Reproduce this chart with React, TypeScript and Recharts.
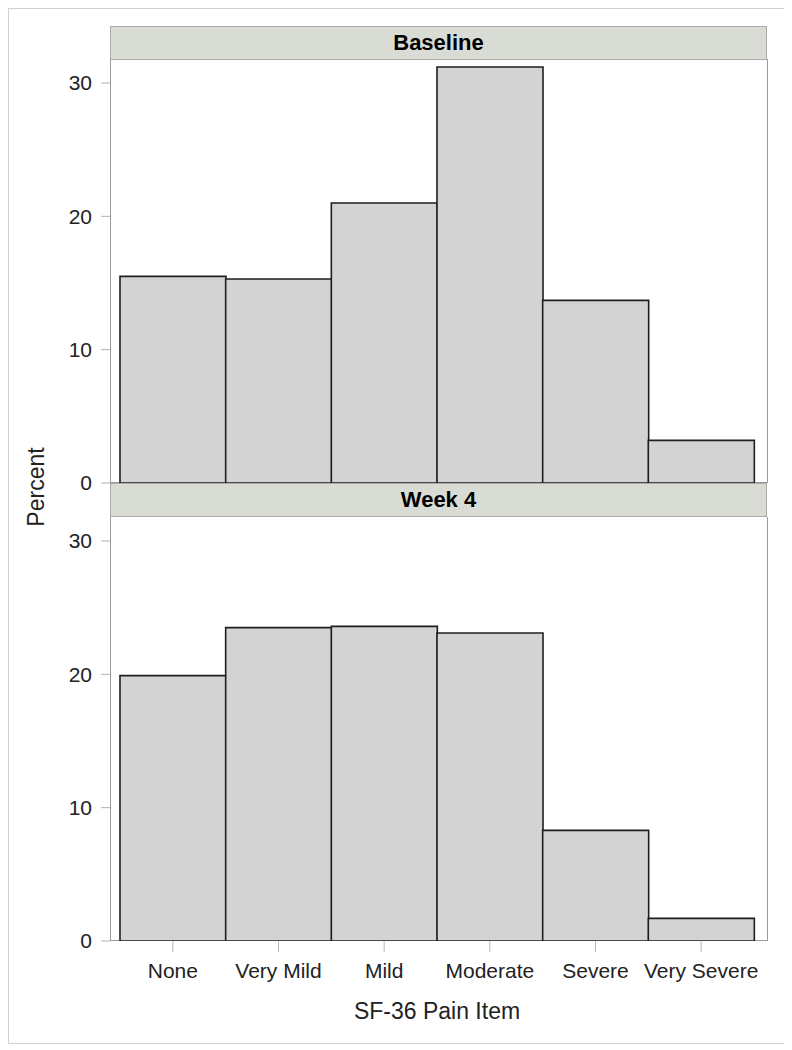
import { CSSProperties } from 'react'
import { Bar, BarChart, XAxis, YAxis } from 'recharts'

const categories = ['None', 'Very Mild', 'Mild', 'Moderate', 'Severe', 'Very Severe']
const baselinePct = [15.5, 15.3, 21.0, 31.2, 13.7, 3.2]
const week4Pct = [19.9, 23.5, 23.6, 23.1, 8.3, 1.7]
const yTicks = [0, 10, 20, 30]
const panelTitles = ['Baseline', 'Week 4']

const FONT = '"Liberation Sans", Arial, sans-serif'
const yDomain: [number, number] = [0, 31.8]

const baselineData = categories.map((c, i) => ({ cat: c, pct: baselinePct[i] }))
const week4Data = categories.map((c, i) => ({ cat: c, pct: week4Pct[i] }))

const sWrap: CSSProperties = { position: 'relative', width: 778, height: 1036, fontFamily: FONT }
const sOuter: CSSProperties = {
  position: 'absolute', left: 0, top: 0, width: 776, height: 1034,
  border: '1px solid #d0d0d0',
}
const sFrame = (top: number): CSSProperties => ({
  position: 'absolute', left: 102, top, width: 656, height: 423,
  border: '1px solid #9a9a9a', borderTop: 'none',
})
const sHeader = (top: number): CSSProperties => ({
  position: 'absolute', left: 102, top, width: 655, height: 32,
  background: '#d9dbd5', border: '1px solid #ababab',
  textAlign: 'center', lineHeight: '32px', fontWeight: 'bold', fontSize: 22, color: '#000',
})
const sChart = (top: number): CSSProperties => ({ position: 'absolute', left: 0, top })

const tickStyle = { fontSize: 21, fill: '#222', fontFamily: FONT }

export default function App() {
  return (
    <div style={sWrap}>
      <div style={sOuter}/>
      <div style={sFrame(51)}/>
      <div style={sFrame(509)}/>
      <div style={sHeader(18)}>{panelTitles[0]}</div>
      <div style={sHeader(475)}>{panelTitles[1]}</div>
      <div style={sChart(0)}>
        <BarChart width={770} height={500} data={baselineData} barCategoryGap={0}
                  margin={{ top: 51, right: 11, bottom: 25, left: 42 }}>
          <XAxis dataKey="cat" hide padding={{ left: 10, right: 13 }}/>
          <YAxis width={60} domain={yDomain} ticks={yTicks} allowDataOverflow axisLine={false} interval={0}
                 tickSize={9} tickMargin={9} tick={tickStyle} tickLine={{ stroke: '#b0b0b0' }}/>
          <Bar dataKey="pct" fill="#d3d3d3" stroke="#1e1e1e" strokeWidth={1.6} isAnimationActive={false}/>
        </BarChart>
      </div>
      <div style={sChart(480)}>
        <BarChart width={770} height={520} data={week4Data} barCategoryGap={0}
                  margin={{ top: 29, right: 11, bottom: 11, left: 42 }}>
          <XAxis dataKey="cat" padding={{ left: 10, right: 13 }} axisLine={false} height={56}
                 tickSize={11} tickMargin={11} tick={tickStyle} tickLine={{ stroke: '#b8b8b8' }}
                 interval={0}/>
          <YAxis width={60} domain={yDomain} ticks={yTicks} allowDataOverflow axisLine={false} interval={0}
                 tickSize={9} tickMargin={9} tick={tickStyle} tickLine={{ stroke: '#b0b0b0' }}/>
          <Bar dataKey="pct" fill="#d3d3d3" stroke="#1e1e1e" strokeWidth={1.6} isAnimationActive={false}/>
        </BarChart>
      </div>
      <div style={{
        position: 'absolute', left: 28, top: 479, width: 0, height: 0,
      }}>
        <div style={{
          position: 'absolute', left: -50, top: -14, width: 100, textAlign: 'center',
          transform: 'rotate(-90deg)', fontSize: 23, lineHeight: '28px', color: '#222',
        }}>Percent</div>
      </div>
      <div style={{
        position: 'absolute', left: 329, top: 989, width: 200, textAlign: 'center',
        fontSize: 23, lineHeight: '28px', color: '#222',
      }}>SF-36 Pain Item</div>
    </div>
  )
}
